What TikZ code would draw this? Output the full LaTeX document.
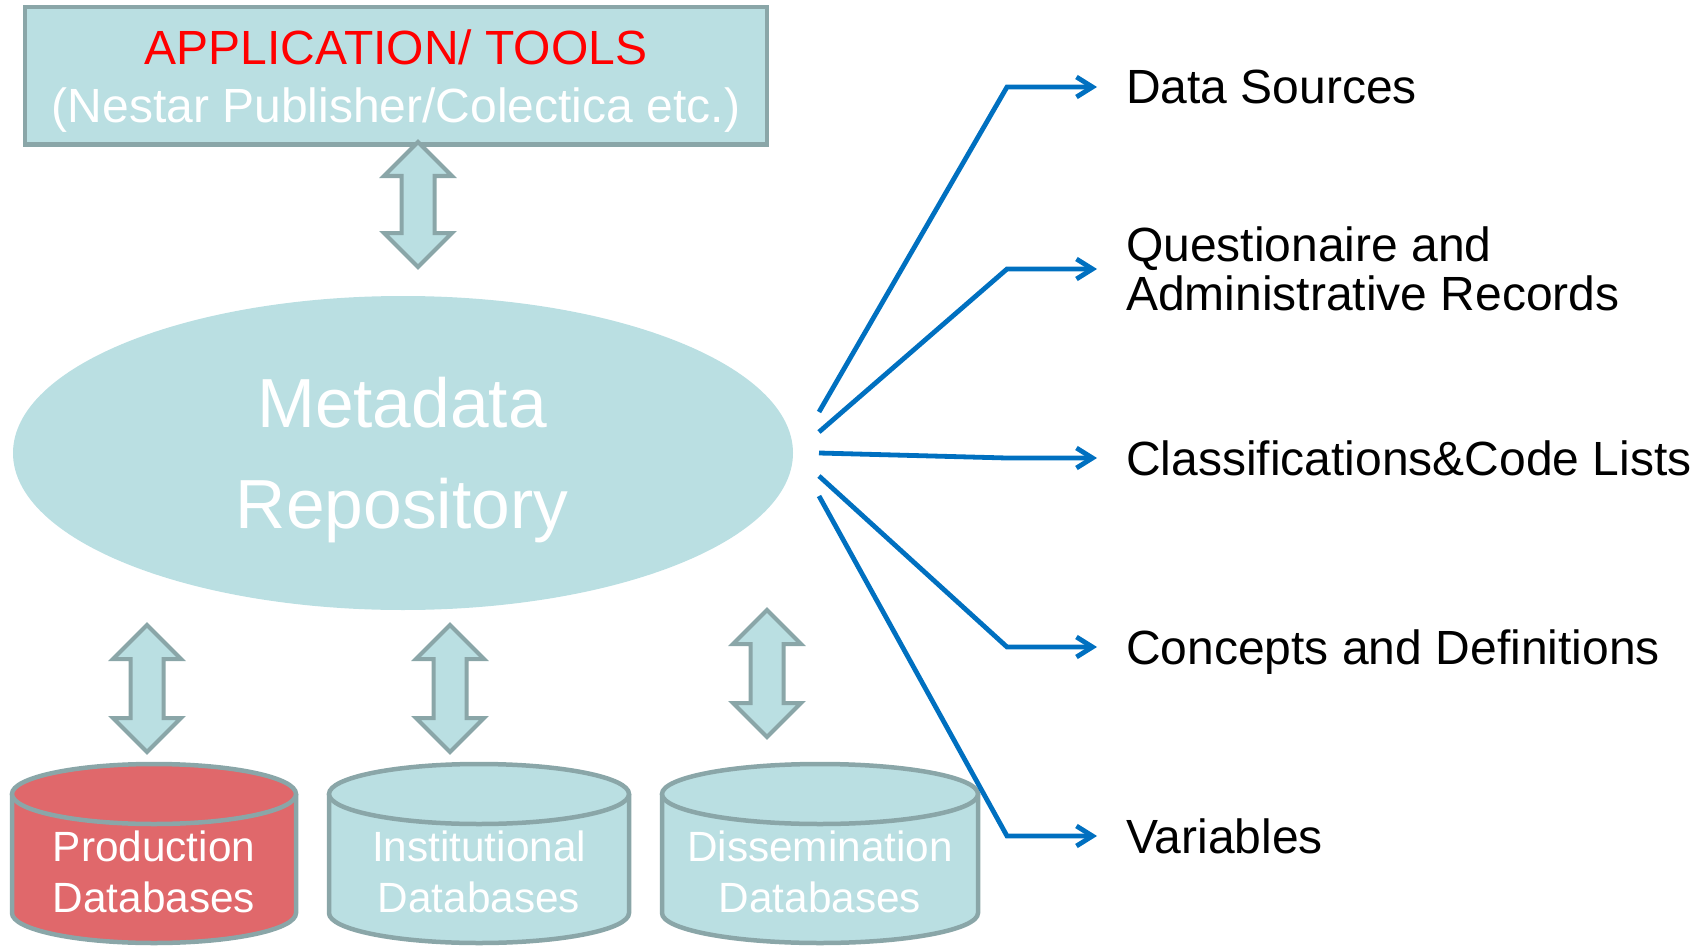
\documentclass[tikz,border=0pt]{standalone}
\usepackage{fontspec}
\setmainfont{Liberation Sans}
\usetikzlibrary{arrows.meta,shapes.geometric}
\definecolor{lb}{HTML}{BADFE2}
\definecolor{gb}{HTML}{8AA6A8}
\definecolor{rd}{HTML}{E0686B}
\definecolor{bl}{HTML}{0070C0}
\definecolor{tred}{HTML}{FF0000}
\newcommand\DArrow[4]{% name, cx, top y, bottom y
  \draw[dbl] (#2,#3) coordinate (#1) -- ++(34,34) -- ++(-17.5,0) -- (#2+16.5,#4-34) -- ++(17.5,0) -- (#2,#4) -- ++(-34,-34) -- ++(17.5,0) -- (#2-16.5,#3+34) -- ++(-17.5,0) -- cycle;}
\newcommand\DrawCyl[3]{% cx, rx, fill colour
  \fill[#3] (#1-#2,794) -- (#1-#2,913) arc[start angle=180,end angle=360,x radius=#2pt,y radius=30pt] -- (#1+#2,794) -- cycle;
  \draw[cylline] (#1-#2,794) -- (#1-#2,913) arc[start angle=180,end angle=360,x radius=#2pt,y radius=30pt] -- (#1+#2,794);
  \draw[cylline,fill=#3] (#1,794) ellipse[x radius=#2pt,y radius=30pt];}
\begin{document}
\begin{tikzpicture}[x=1pt,y=-1pt,
  box/.style={draw=gb,fill=lb,line width=4.5pt},
  dbl/.style={draw=gb,fill=lb,line width=4pt,line join=miter},
  cylline/.style={draw=gb,line width=4.5pt},
  conn/.style={draw=bl,line width=4.8pt,line join=miter,-{Straight Barb[length=16pt,width=20pt,line width=4.8pt]}},
  lab/.style={font=\fontsize{48}{50}\selectfont,anchor=base west,inner sep=0pt,text=black},
  apptext/.style={font=\fontsize{48}{50}\selectfont,anchor=base,inner sep=0pt},
  bigtext/.style={font=\fontsize{69.5}{72}\selectfont,anchor=base,inner sep=0pt,text=white},
  dbtext/.style={font=\fontsize{42.3}{50}\selectfont,anchor=base,inner sep=0pt,text=white}]
\useasboundingbox (0,0) rectangle (1703,947);
% top box
\node[box,minimum width=742pt,minimum height=137.5pt,inner sep=0pt] (app) at (396,76) {};
\node[apptext,text=tred] (app1) at (396,65) {APPLICATION/ TOOLS};
\node[apptext,text=white] (app2) at (396,123) {(Nestar Publisher/Colectica etc.)};
\DArrow{a0}{418}{142}{267}
% repository ellipse
\node[ellipse,fill=lb,minimum width=780pt,minimum height=314pt,inner sep=0pt] (meta) at (403,453) {};
\node[bigtext] (meta1) at (402,427) {Metadata};
\node[bigtext] (meta2) at (402,528) {Repository};
% bottom arrows
\DArrow{a1}{147}{625}{752}
\DArrow{a2}{450}{625}{752}
\DArrow{a3}{767}{610}{737}
% databases
\DrawCyl{154}{142}{rd}
\DrawCyl{479}{150}{lb}
\DrawCyl{820}{158}{lb}
\node[dbtext] (p1) at (154,861) {Production};
\node[dbtext] (p2) at (154,912) {Databases};
\node[dbtext] (i1) at (479,861) {Institutional};
\node[dbtext] (i2) at (479,912) {Databases};
\node[dbtext] (d1) at (820,861) {Dissemination};
\node[dbtext] (d2) at (820,912) {Databases};
% labels
\node[lab] (l1) at (1126,104) {Data Sources};
\node[lab] (l2a) at (1126,261) {Questionaire and};
\node[lab] (l2b) at (1126,310) {Administrative Records};
\node[lab] (l3) at (1126,475) {Classifications\&Code Lists};
\node[lab] (l4) at (1126,664) {Concepts and Definitions};
\node[lab] (l5) at (1126,853) {Variables};
% connector points
\coordinate (s1) at (819,412); \coordinate (b1) at (1007,87);  \coordinate (t1) at (1097,87);
\coordinate (s2) at (819,432); \coordinate (b2) at (1007,269); \coordinate (t2) at (1097,269);
\coordinate (s3) at (819,453); \coordinate (b3) at (1007,458); \coordinate (t3) at (1097,458);
\coordinate (s4) at (819,476); \coordinate (b4) at (1007,647); \coordinate (t4) at (1097,647);
\coordinate (s5) at (819,496); \coordinate (b5) at (1007,836); \coordinate (t5) at (1097,836);
\draw[conn] (s1) -- (b1) -- (t1);
\draw[conn] (s2) -- (b2) -- (t2);
\draw[conn] (s3) -- (b3) -- (t3);
\draw[conn] (s4) -- (b4) -- (t4);
\draw[conn] (s5) -- (b5) -- (t5);
\end{tikzpicture}
\end{document}
